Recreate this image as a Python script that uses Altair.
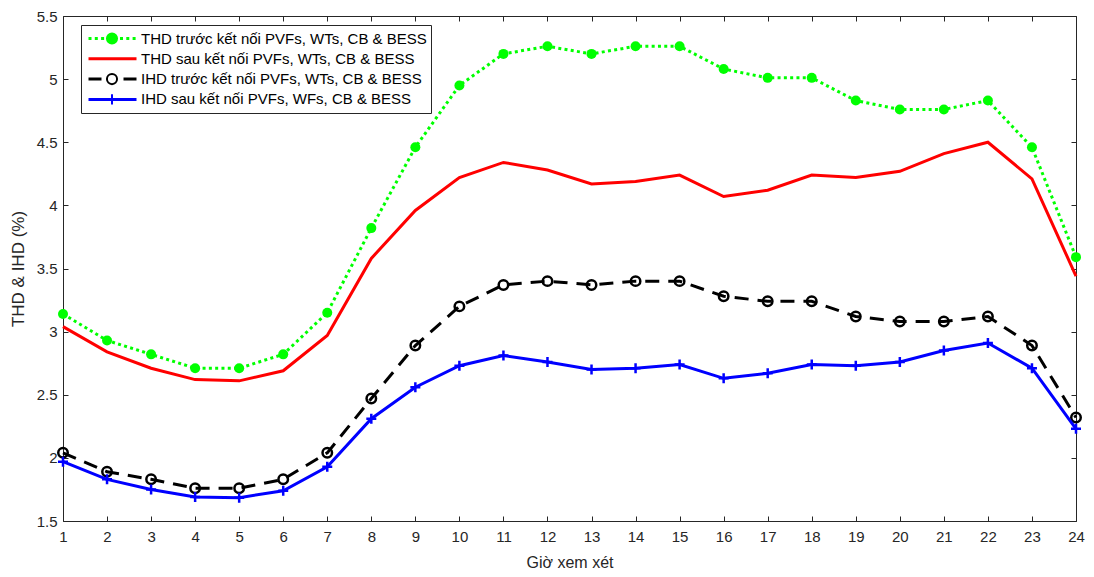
import altair as alt
import pandas as pd

# ---------------- data ----------------
hours = list(range(1, 25))
thd_before = [3.14, 2.93, 2.82, 2.71, 2.71, 2.82, 3.15, 3.82, 4.46, 4.95, 5.20, 5.26,
              5.20, 5.26, 5.26, 5.08, 5.01, 5.01, 4.83, 4.76, 4.76, 4.83, 4.46, 3.59]
thd_after = [3.04, 2.84, 2.71, 2.62, 2.61, 2.69, 2.97, 3.58, 3.96, 4.22, 4.34, 4.28,
             4.17, 4.19, 4.24, 4.07, 4.12, 4.24, 4.22, 4.27, 4.41, 4.50, 4.21, 3.44]
ihd_before = [2.04, 1.89, 1.83, 1.76, 1.76, 1.83, 2.04, 2.47, 2.89, 3.20, 3.37, 3.40,
              3.37, 3.40, 3.40, 3.28, 3.24, 3.24, 3.12, 3.08, 3.08, 3.12, 2.89, 2.32]
ihd_after = [1.97, 1.83, 1.75, 1.69, 1.685, 1.74, 1.93, 2.31, 2.56, 2.73, 2.81, 2.76,
             2.70, 2.71, 2.74, 2.63, 2.67, 2.74, 2.73, 2.76, 2.85, 2.91, 2.71, 2.23]

series_labels = [
    "THD trước kết nối PVFs, WTs, CB & BESS",
    "THD sau kết nối PVFs, WTs, CB & BESS",
    "IHD trước kết nối PVFs, WTs, CB & BESS",
    "IHD sau kết nối PVFs, WFs, CB & BESS",
]
marker_keys = ["m1", "m2", "m3", "m4"]
x_ticks = list(range(1, 25))
y_ticks = [1.5, 2, 2.5, 3, 3.5, 4, 4.5, 5, 5.5]
x_title = "Giờ xem xét"
y_title = "THD & IHD (%)"

# ---------------- styles ----------------
GREEN, RED, BLACK, BLUE = "#00ff00", "#ff0000", "#000000", "#0000ff"
AX = "#262626"
FONT = "Liberation Sans"

df = pd.DataFrame({
    "hour": hours,
    "thd_before": thd_before,
    "thd_after": thd_after,
    "ihd_before": ihd_before,
    "ihd_after": ihd_after,
})
leg_df = pd.DataFrame({
    "series": series_labels,
    "marker": marker_keys,
    "hour": [1, 1, 1, 1],
    "value": [2.0, 2.0, 2.0, 2.0],
})

xs = alt.Scale(domain=[1, 24], nice=False, zero=False)
ys = alt.Scale(domain=[1.5, 5.5], nice=False, zero=False)

common_axis = dict(domain=False, grid=False, ticks=True, tickSize=5, offset=-5,
                   tickColor=AX, tickWidth=1)

x_axis_bottom = alt.Axis(values=x_ticks, title=x_title, format="d", labelFlush=False,
                         labelOverlap=False, labelPadding=8, titlePadding=10,
                         labelFont=FONT, labelFontSize=15, labelColor=AX,
                         titleFont=FONT, titleFontSize=16, titleFontWeight="normal",
                         titleColor=AX, **common_axis)
y_axis_left = alt.Axis(values=y_ticks, title=y_title, format="~g", labelFlush=False,
                       labelOverlap=False, labelPadding=6, titlePadding=9,
                       labelFont=FONT, labelFontSize=15, labelColor=AX,
                       titleFont=FONT, titleFontSize=17, titleFontWeight="normal",
                       titleColor=AX, **common_axis)
x_axis_top = alt.Axis(orient="top", values=x_ticks, labels=False, title="", **common_axis)
y_axis_right = alt.Axis(orient="right", values=y_ticks, labels=False, title="", **common_axis)


def enc(field, xaxis=None, yaxis=None):
    return dict(
        x=alt.X("hour:Q", scale=xs, axis=xaxis),
        y=alt.Y(f"{field}:Q", scale=ys, axis=yaxis),
    )


base = alt.Chart(df)

green_line = base.mark_line(color=GREEN, strokeWidth=3, strokeDash=[3, 3.3]).encode(**enc("thd_before"))
green_pts = base.mark_point(shape="circle", filled=True, size=100, color=GREEN, opacity=1).encode(**enc("thd_before"))
red_line = base.mark_line(color=RED, strokeWidth=3).encode(**enc("thd_after", x_axis_bottom, y_axis_left))
black_line = base.mark_line(color=BLACK, strokeWidth=3, strokeDash=[14, 9]).encode(**enc("ihd_before"))
black_pts = base.mark_point(shape="circle", filled=False, size=90, strokeWidth=2.5, color=BLACK, opacity=1).encode(**enc("ihd_before"))
blue_line = base.mark_line(color=BLUE, strokeWidth=3).encode(**enc("ihd_after", x_axis_top, y_axis_right))
blue_pts = base.mark_point(shape="M-1,0L1,0M0,-1L0,1", filled=False, size=100, strokeWidth=2.5,
                           color=BLUE, opacity=1).encode(**enc("ihd_after"))

# -------- legend (two overlaid native legends: lines + markers) --------
leg_common = dict(orient="none", legendX=18, legendY=9, title=None, padding=4,
                  clipHeight=19, rowPadding=1.3, symbolOffset=2, labelOffset=3,
                  symbolSize=2304, labelFont=FONT, labelFontSize=15, labelLimit=600,
                  direction="vertical")
legA = alt.Legend(symbolType="M-1,0L1,0", symbolStrokeWidth=3, labelColor=BLACK,
                  strokeColor=AX, **leg_common)
legB = alt.Legend(symbolStrokeWidth=2, labelExpr="''", **leg_common)

legend_lines = alt.Chart(leg_df).transform_filter("datum.hour < 0").mark_line(opacity=1).encode(
    x=alt.X("hour:Q", scale=xs, axis=None),
    y=alt.Y("value:Q", scale=ys, axis=None),
    color=alt.Color("series:N", scale=alt.Scale(domain=series_labels, range=[GREEN, RED, BLACK, BLUE]), legend=legA),
    strokeDash=alt.StrokeDash("series:N", scale=alt.Scale(domain=series_labels,
                              range=[[3, 3.3], [1, 0], [13, 22, 13], [1, 0]]), legend=legA),
)
circle_path = "M-0.21,0A0.21,0.21,0,1,0,0.21,0A0.21,0.21,0,1,0,-0.21,0Z"
cross_path = "M-0.21,0L0.21,0M0,-0.21L0,0.21"
legend_marks = alt.Chart(leg_df).transform_filter("datum.hour < 0").mark_point(opacity=1).encode(
    x=alt.X("hour:Q", scale=xs, axis=None),
    y=alt.Y("value:Q", scale=ys, axis=None),
    shape=alt.Shape("marker:N", scale=alt.Scale(domain=marker_keys,
                    range=[circle_path, "M0,0L0,0", circle_path, cross_path]), legend=legB),
    fill=alt.Fill("marker:N", scale=alt.Scale(domain=marker_keys,
                  range=[GREEN, "transparent", "#ffffff", "transparent"]), legend=legB),
    stroke=alt.Stroke("marker:N", scale=alt.Scale(domain=marker_keys,
                      range=[GREEN, "transparent", BLACK, BLUE]), legend=legB),
)

chart = alt.layer(
    green_line, green_pts, red_line, black_line, black_pts, blue_line, blue_pts,
    legend_lines, legend_marks,
).resolve_axis(x="independent", y="independent").properties(
    width=1013, height=505,
    autosize=alt.AutoSizeParams(type="none"),
    padding={"left": 55, "top": 8, "right": 10, "bottom": 48},
    background="white",
).configure_view(stroke=AX, strokeWidth=1)

chart.save("out.html", embed_options={"renderer": "svg", "actions": False})
